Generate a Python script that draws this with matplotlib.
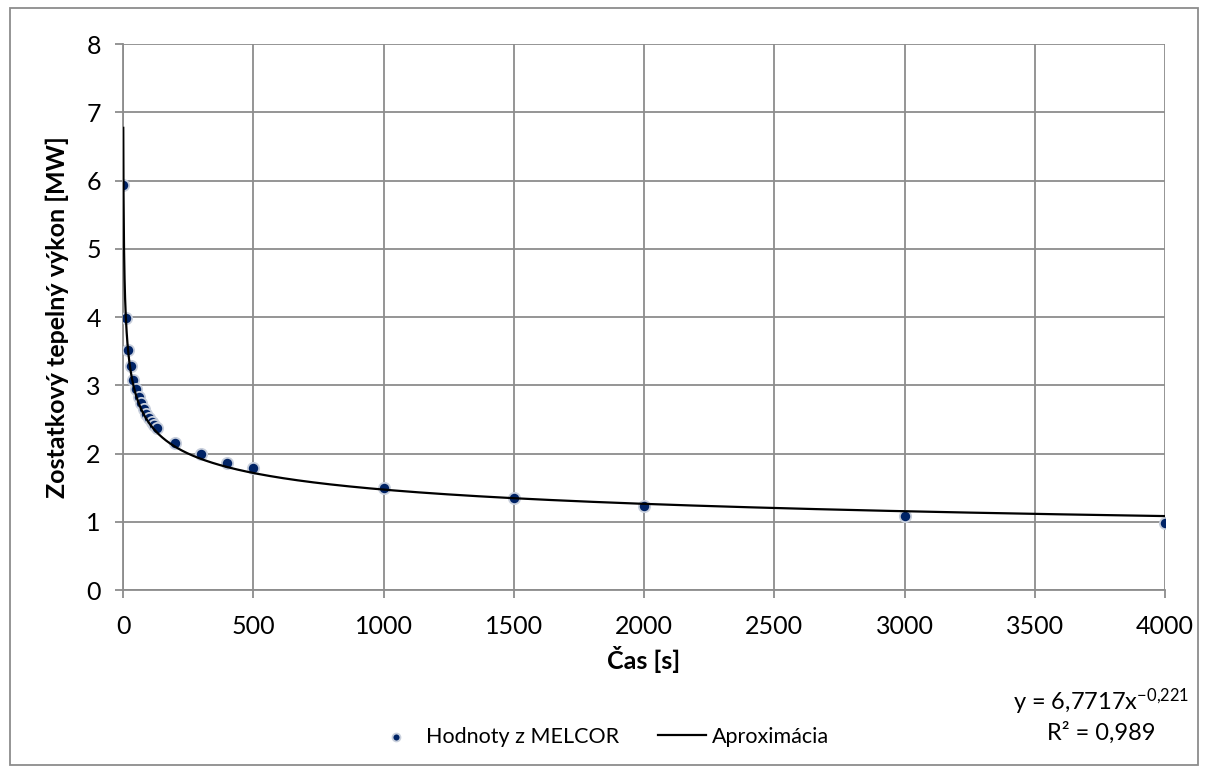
import numpy as np
import matplotlib.pyplot as plt
from matplotlib.patches import Rectangle

# hodnoty z MELCOR (cas [s], vykon [MW])
cas = [1, 10, 20, 30, 40, 50, 60, 70, 80, 90, 100, 110, 120, 130,
       200, 300, 400, 500, 1000, 1500, 2000, 3000, 4000]
vykon = [5.93, 3.98, 3.52, 3.28, 3.07, 2.94, 2.83, 2.74, 2.65, 2.58, 2.52, 2.46, 2.42, 2.38,
         2.16, 2.00, 1.86, 1.79, 1.50, 1.35, 1.23, 1.09, 0.98]

# koeficienty mocninovej aproximacie (z grafu)
fit_a = 6.7717
fit_b = -0.221
fit_r2 = 0.989

x_ticks = [0, 500, 1000, 1500, 2000, 2500, 3000, 3500, 4000]
y_ticks = [0, 1, 2, 3, 4, 5, 6, 7, 8]

plt.rcParams['font.family'] = ['Lato', 'DejaVu Sans']
grid_c = '#8c8c8c'
fs = 18

fig = plt.figure(figsize=(12.08, 7.72), dpi=100)
ax = fig.add_axes([123 / 1208, 1 - 590 / 772, (1165 - 123) / 1208, (590 - 44) / 772])

x_fit = np.linspace(min(cas), max(cas), 4000)
y_fit = fit_a * x_fit ** fit_b

ax.scatter(cas, vykon, s=66, color='#002366', edgecolors='#c8cfdc', linewidths=1.3,
           zorder=3, label='Hodnoty z MELCOR')
ax.plot(x_fit, y_fit, color='black', lw=1.6, zorder=4, label='Aproximácia')

ax.set_xlim(0, 4000)
ax.set_ylim(0, 8)
ax.set_xticks(x_ticks)
ax.set_yticks(y_ticks)
ax.grid(True, color=grid_c, lw=1.3)
ax.set_axisbelow(True)
for s in ['top', 'right']:
    ax.spines[s].set_visible(False)
for s in ['left', 'bottom']:
    ax.spines[s].set_color(grid_c)
    ax.spines[s].set_linewidth(1.3)
ax.tick_params(direction='out', length=6, width=1.3, color=grid_c, labelsize=fs)
ax.tick_params(axis='x', pad=12)
ax.tick_params(axis='y', pad=10)

ax.set_xlabel('Čas [s]', fontsize=fs, fontweight='bold', labelpad=6)
ax.set_ylabel('Zostatkový tepelný výkon [MW]', fontsize=fs, fontweight='bold')
ax.yaxis.set_label_coords(-0.052, 0.5)

leg = fig.legend(loc='center', bbox_to_anchor=(601 / 1208, 1 - 737 / 772), ncol=2,
                 frameon=False, fontsize=15.5, handlelength=2.2, handletextpad=0.3,
                 columnspacing=1.8, markerscale=0.7)

fig.text(1101 / 1208, 1 - 702 / 772,
         'y = 6,7717x$\\mathregular{^{-0{,}221}}$', ha='center', va='center', fontsize=17)
fig.text(1101 / 1208, 1 - 733 / 772, 'R² = 0,989', ha='center', va='center', fontsize=17)

fig.patches.append(Rectangle((10 / 1208, 1 - 765 / 772), 1188 / 1208, 757 / 772,
                             transform=fig.transFigure, fill=False, edgecolor=grid_c, lw=1.3))

fig.savefig('out.png', dpi=100)
